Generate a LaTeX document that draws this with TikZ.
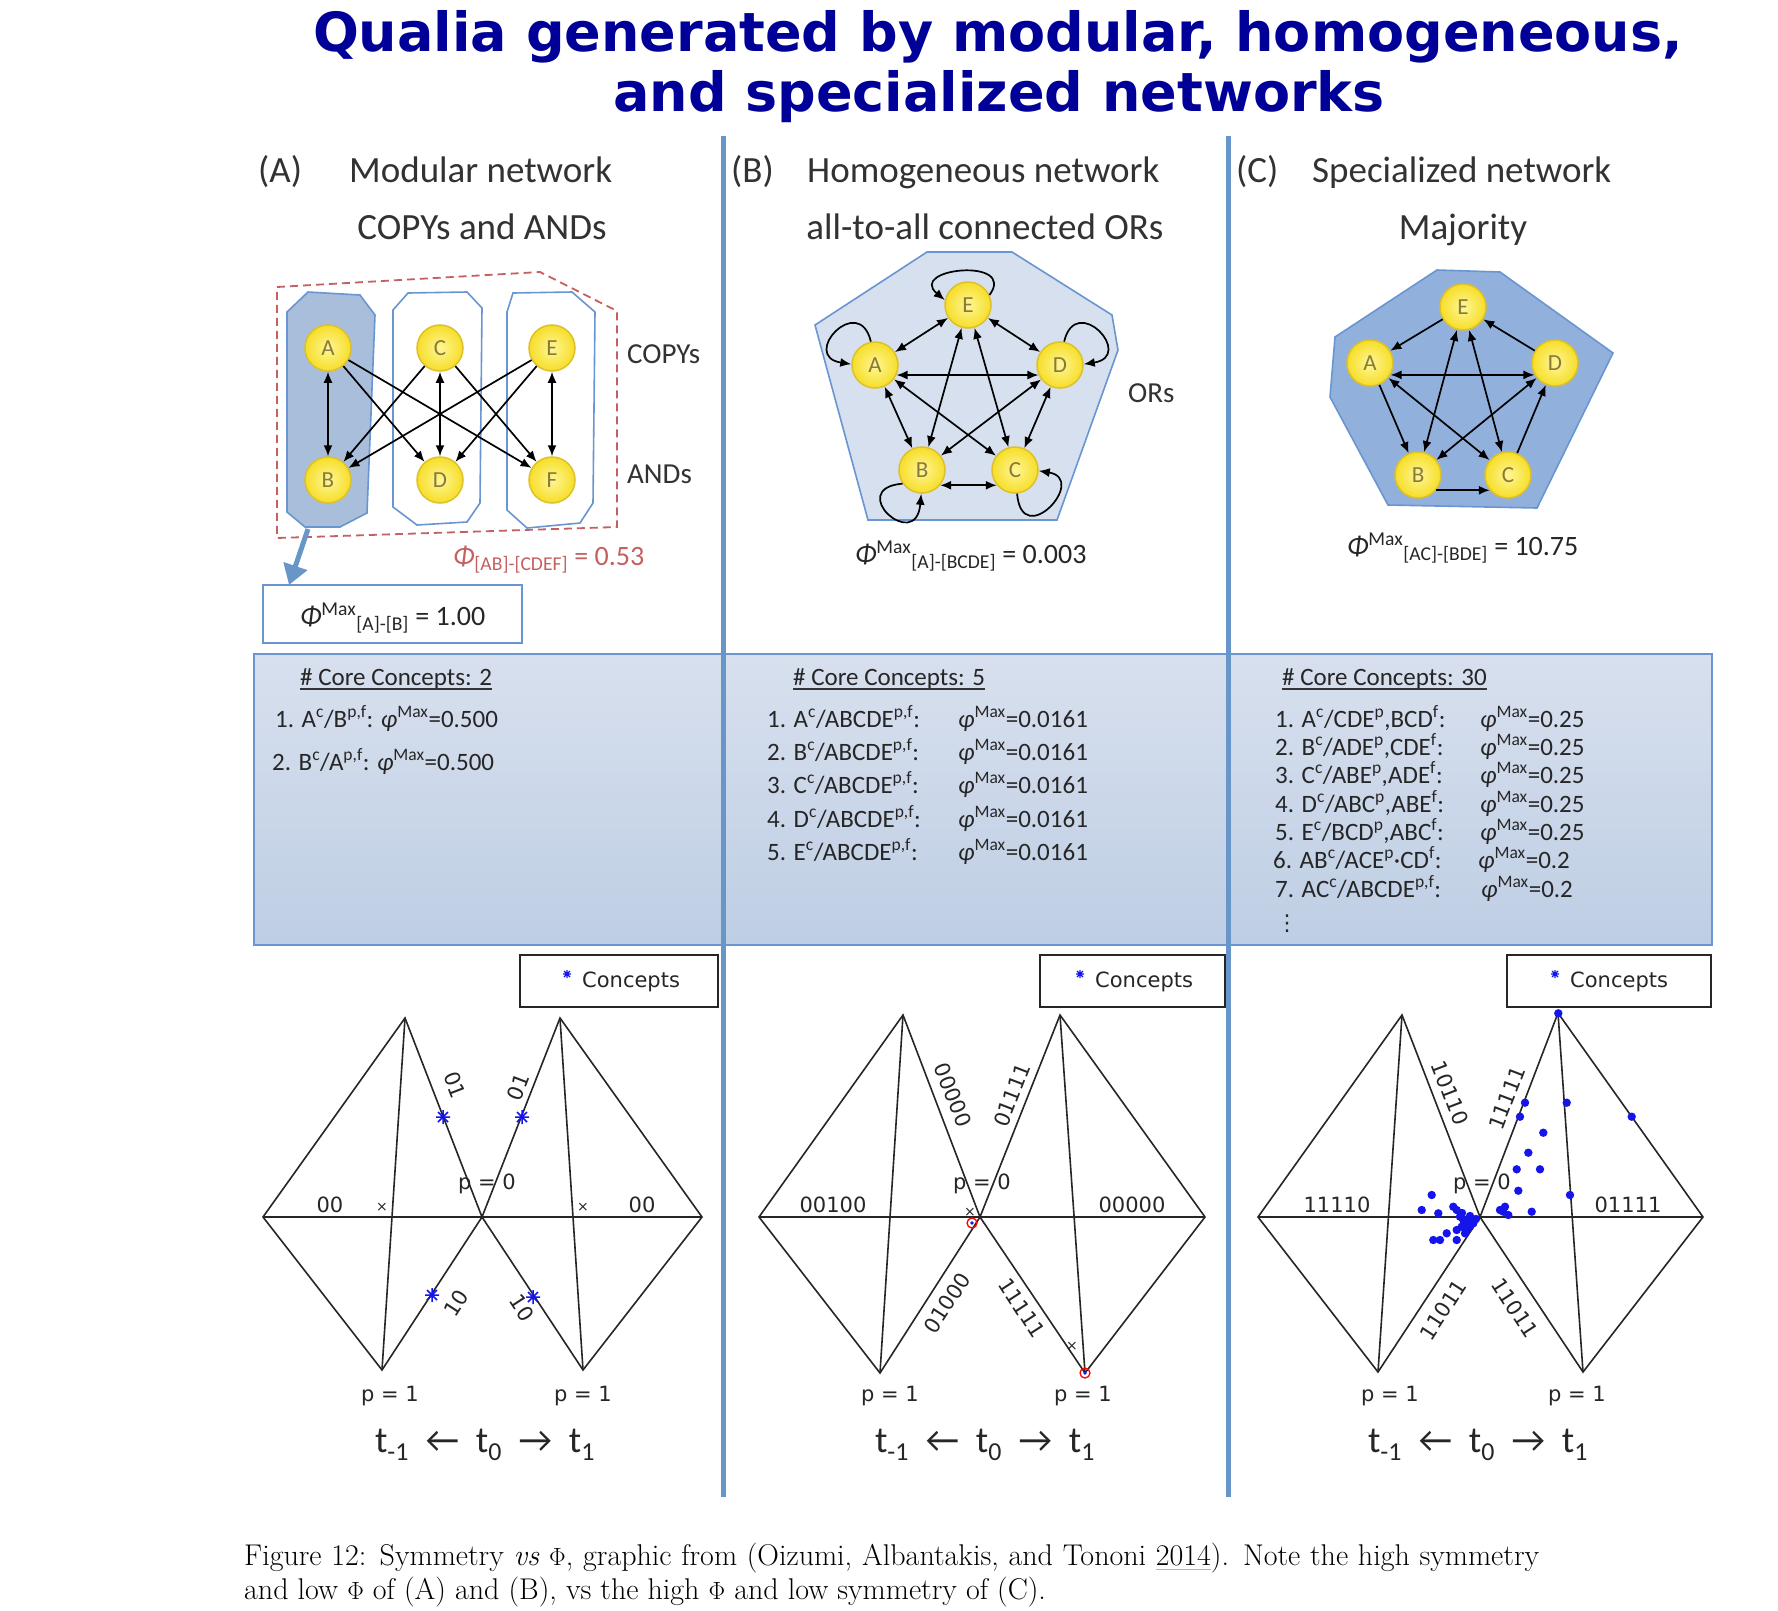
\documentclass[tikz,border=0pt]{standalone}
\usepackage{fontspec}
\newfontfamily\cf{Carlito}
\newfontfamily\titlefont{DejaVu Sans}
\newfontfamily\plotfont{DejaVu Sans}
\usetikzlibrary{arrows.meta,shapes.geometric}
\definecolor{titleblue}{RGB}{0,0,153}
\definecolor{lineblue}{RGB}{104,150,200}
\definecolor{hdrgray}{RGB}{50,50,50}
\definecolor{boxtop}{RGB}{216,224,238}
\definecolor{boxbot}{RGB}{190,206,228}
\definecolor{modfill}{RGB}{168,190,218}
\definecolor{modbord}{RGB}{105,150,208}
\definecolor{pentfill}{RGB}{214,224,238}
\definecolor{heptfill}{RGB}{146,176,220}
\definecolor{ycore}{RGB}{255,246,150}
\definecolor{yedge}{RGB}{246,222,40}
\definecolor{ybord}{RGB}{222,192,40}
\definecolor{ytext}{RGB}{135,122,60}
\definecolor{redlab}{RGB}{196,96,96}
\definecolor{dotblue}{RGB}{20,20,235}
\definecolor{capgreen}{RGB}{120,220,120}
\newcommand\gul[1]{\setbox0\hbox{#1}\rlap{\color{capgreen}\rule[-5pt]{\wd0}{1.3pt}}\box0}
\newcommand\sps[1]{\textsuperscript{#1}}
\newcommand\sbs[1]{\textsubscript{#1}}
\begin{document}
\begin{tikzpicture}[x=1pt,y=-1pt,
  titletxt/.style={anchor=base,inner sep=0pt,text=titleblue,font=\titlefont\bfseries\fontsize{54}{62}\selectfont},
  hdr/.style={anchor=base west,inner sep=0pt,text=hdrgray,font=\cf\fontsize{37}{44}\selectfont},
  hdrc/.style={anchor=base,inner sep=0pt,text=hdrgray,font=\cf\fontsize{37}{44}\selectfont},
  lab/.style={anchor=base west,inner sep=0pt,text=hdrgray,font=\cf\fontsize{29}{34}\selectfont},
  philab/.style={anchor=base west,inner sep=0pt,text=black!85,font=\cf\fontsize{28}{34}\selectfont},
  cc/.style={anchor=base west,inner sep=0pt,text=black!85,font=\cf\fontsize{25}{30}\selectfont},
  ynode/.style={circle,minimum size=46pt,inner sep=0pt,draw=ybord,line width=1.5pt,inner color=ycore,outer color=yedge,text=ytext,font=\cf\fontsize{23}{26}\selectfont},
  oneway/.style={-{Latex[length=11pt,width=9pt]},line width=1.7pt},
  twoway/.style={{Latex[length=11pt,width=9pt]}-{Latex[length=11pt,width=9pt]},line width=1.7pt},
  pline/.style={line width=1.6pt,black!85},
  plab/.style={inner sep=0pt,text=black!85,font=\plotfont\fontsize{21}{24}\selectfont},
  legbox/.style={draw=black!85,line width=2pt,fill=white},
  dot/.style={fill=dotblue,draw=none},
  astr/.pic={\draw[dotblue,line width=1.5pt] (-7,0)--(7,0) (0,-7)--(0,7) (-5,-5)--(5,5) (-5,5)--(5,-5);},
  smallastr/.pic={\draw[dotblue,line width=1.3pt] (-4,0)--(4,0) (0,-4)--(0,4) (-3,-3)--(3,3) (-3,3)--(3,-3);}
]
\useasboundingbox (0,0) rectangle (1778,1610);
\fill[white] (0,0) rectangle (1778,1610);

% ---------------- title
\node[titletxt] (t1) at (998,51) {Qualia generated by modular, homogeneous,};
\node[titletxt] (t2) at (999,111) {and specialized networks};

% ---------------- core concept box
\shade[top color=boxtop,bottom color=boxbot,draw=modbord,line width=2pt] (254,654) rectangle (1712,945);

% ---------------- vertical separators
\coordinate (s1t) at (723,136); \coordinate (s1b) at (723,1497);
\coordinate (s2t) at (1228,136); \coordinate (s2b) at (1228,1497);
\draw[lineblue,line width=5pt] (s1t) -- (s1b);
\draw[lineblue,line width=5pt] (s2t) -- (s2b);

% ---------------- headers
\node[hdr] (hA1) at (258,182) {(A)};
\node[hdr] (hA2) at (349,182) {Modular network};
\node[hdrc] (hA3) at (482,239) {COPYs and ANDs};
\node[hdr] (hB1) at (731,182) {(B)};
\node[hdr] (hB2) at (807,182) {Homogeneous network};
\node[hdrc] (hB3) at (985,239) {all-to-all connected ORs};
\node[hdr] (hC1) at (1236,182) {(C)};
\node[hdr] (hC2) at (1312,182) {Specialized network};
\node[hdrc] (hC3) at (1463,239) {Majority};

% ================= panel A network
\draw[dashed,dash pattern=on 8pt off 5pt,line width=1.8pt,draw=redlab]
  (277,287) -- (540,272) -- (617,311) -- (617,527) -- (277,538) -- cycle;
\draw[fill=modfill,draw=modbord,line width=1.6pt]
  (287,312) -- (308,292) -- (360,295) -- (375,315) -- (367,513) -- (340,527) -- (305,527) -- (287,512) -- cycle;
\draw[fill=white,draw=modbord,line width=1.6pt]
  (393,310) -- (408,293) -- (467,292) -- (482,308) -- (480,503) -- (467,522) -- (417,525) -- (393,507) -- cycle;
\draw[fill=white,draw=modbord,line width=1.6pt]
  (507,312) -- (513,293) -- (572,292) -- (595,312) -- (593,503) -- (580,523) -- (527,528) -- (507,510) -- cycle;
\node[ynode] (aA) at (328,348) {A};
\node[ynode] (aC) at (440,348) {C};
\node[ynode] (aE) at (552,348) {E};
\node[ynode] (aB) at (328,480) {B};
\node[ynode] (aD) at (440,480) {D};
\node[ynode] (aF) at (552,480) {F};
\draw[twoway] (aA) -- (aB);
\draw[twoway] (aC) -- (aD);
\draw[twoway] (aE) -- (aF);
\draw[oneway] (aA) -- (aD);
\draw[oneway] (aA) -- (aF);
\draw[oneway] (aC) -- (aB);
\draw[oneway] (aC) -- (aF);
\draw[oneway] (aE) -- (aB);
\draw[oneway] (aE) -- (aD);
\node[lab] (copys) at (627,363) {COPYs};
\node[lab] (ands) at (627,483) {ANDs};
\node[philab,text=redlab] (phiAB) at (453,565) {\textit{Φ}\sbs{[AB]-[CDEF]} = 0.53};
\node[draw=modbord,line width=2pt,fill=white,minimum width=259pt,minimum height=58pt,inner sep=0pt] (maxA) at (392.5,614) {};
\node[philab] (maxAt) at (300,625) {\textit{Φ}\sps{Max}\sbs{[A]-[B]} = 1.00};
\coordinate (arrS) at (308,529);
\coordinate (arrE) at (289,585);
\draw[lineblue,line width=5pt,-{Triangle[length=20pt,width=24pt]}] (arrS) -- (arrE);

% ================= panel B network
\draw[fill=pentfill,draw=modbord,line width=1.6pt]
  (815,325) -- (927,252) -- (1012,252) -- (1112,315) -- (1118,350) -- (1057,520) -- (868,520) -- cycle;
\node[ynode] (bE) at (968,305) {E};
\node[ynode] (bA) at (875,365) {A};
\node[ynode] (bD) at (1060,365) {D};
\node[ynode] (bB) at (922,470) {B};
\node[ynode] (bC) at (1015,470) {C};
\draw[twoway] (bE) -- (bA);
\draw[twoway] (bE) -- (bD);
\draw[twoway] (bA.-25) -- (bD.205);
\draw[twoway] (bA) -- (bB);
\draw[twoway] (bD) -- (bC);
\draw[twoway] (bB.-40) -- (bC.220);
\draw[twoway] (bA) -- (bC);
\draw[twoway] (bD) -- (bB);
\draw[twoway] (bE) -- (bB);
\draw[twoway] (bE) -- (bC);
\draw[oneway] (bE.25) .. controls +(28,-38) and +(-38,-32) .. (bE.168);
\draw[oneway] (bA.100) .. controls +(-12,-50) and +(-52,-8) .. (bA.178);
\draw[oneway] (bD.80) .. controls +(12,-50) and +(52,-8) .. (bD.2);
\draw[oneway] (bB.215) .. controls +(-58,5) and +(-5,60) .. (bB.268);
\draw[oneway] (bC.275) .. controls +(5,58) and +(50,8) .. (bC.-2);
\node[lab] (ors) at (1128,402) {ORs};
\node[philab] (maxB) at (855,563) {\textit{Φ}\sps{Max}\sbs{[A]-[BCDE]} = 0.003};

% ================= panel C network
\draw[fill=heptfill,draw=modbord,line width=1.6pt]
  (1335,337) -- (1437,270) -- (1500,272) -- (1613,353) -- (1537,508) -- (1388,505) -- (1330,397) -- cycle;
\node[ynode] (cE) at (1463,307) {E};
\node[ynode] (cA) at (1370,363) {A};
\node[ynode] (cD) at (1555,363) {D};
\node[ynode] (cB) at (1418,475) {B};
\node[ynode] (cC) at (1508,475) {C};
\draw[oneway] (cE) -- (cA);
\draw[oneway] (cD) -- (cE);
\draw[twoway] (cA.-30) -- (cD.210);
\draw[twoway] (cE) -- (cB);
\draw[twoway] (cE) -- (cC);
\draw[oneway] (cA) -- (cB);
\draw[twoway] (cA) -- (cC);
\draw[twoway] (cD) -- (cB);
\draw[oneway] (cC) -- (cD);
\draw[oneway] (cB.-40) -- (cC.220);
\node[philab] (maxC) at (1347,555) {\textit{Φ}\sps{Max}\sbs{[AC]-[BDE]} = 10.75};

% ================= core concepts text
\node[cc] (ccA) at (300,685) {\# Core Concepts: 2};
\draw[line width=2pt,black!80] ([yshift=-4pt]ccA.base west) -- ([yshift=-4pt]ccA.base east);
\node[cc] (a1) at (275,727) {1. A\sps{c}/B\sps{p,f}: \textit{φ}\sps{Max}=0.500};
\node[cc] (a2) at (272,770) {2. B\sps{c}/A\sps{p,f}: \textit{φ}\sps{Max}=0.500};

\node[cc] (ccB) at (793,685) {\# Core Concepts: 5};
\draw[line width=2pt,black!80] ([yshift=-4pt]ccB.base west) -- ([yshift=-4pt]ccB.base east);
\node[cc] (b1) at (767,727) {1. A\sps{c}/ABCDE\sps{p,f}:};
\node[cc] (b2) at (767,760) {2. B\sps{c}/ABCDE\sps{p,f}:};
\node[cc] (b3) at (767,793) {3. C\sps{c}/ABCDE\sps{p,f}:};
\node[cc] (b4) at (767,827) {4. D\sps{c}/ABCDE\sps{p,f}:};
\node[cc] (b5) at (767,860) {5. E\sps{c}/ABCDE\sps{p,f}:};
\node[cc] (b1v) at (958,727) {\textit{φ}\sps{Max}=0.0161};
\node[cc] (b2v) at (958,760) {\textit{φ}\sps{Max}=0.0161};
\node[cc] (b3v) at (958,793) {\textit{φ}\sps{Max}=0.0161};
\node[cc] (b4v) at (958,827) {\textit{φ}\sps{Max}=0.0161};
\node[cc] (b5v) at (958,860) {\textit{φ}\sps{Max}=0.0161};

\node[cc] (ccC) at (1282,685) {\# Core Concepts: 30};
\draw[line width=2pt,black!80] ([yshift=-4pt]ccC.base west) -- ([yshift=-4pt]ccC.base east);
\node[cc] (c1) at (1275,727) {1. A\sps{c}/CDE\sps{p},BCD\sps{f}:};
\node[cc] (c2) at (1275,755) {2. B\sps{c}/ADE\sps{p},CDE\sps{f}:};
\node[cc] (c3) at (1275,783) {3. C\sps{c}/ABE\sps{p},ADE\sps{f}:};
\node[cc] (c4) at (1275,812) {4. D\sps{c}/ABC\sps{p},ABE\sps{f}:};
\node[cc] (c5) at (1275,840) {5. E\sps{c}/BCD\sps{p},ABC\sps{f}:};
\node[cc] (c6) at (1273,868) {6. AB\sps{c}/ACE\sps{p}·CD\sps{f}:};
\node[cc] (c7) at (1275,897) {7. AC\sps{c}/ABCDE\sps{p,f}:};
\node[cc] (c1v) at (1480,727) {\textit{φ}\sps{Max}=0.25};
\node[cc] (c2v) at (1480,755) {\textit{φ}\sps{Max}=0.25};
\node[cc] (c3v) at (1480,783) {\textit{φ}\sps{Max}=0.25};
\node[cc] (c4v) at (1480,812) {\textit{φ}\sps{Max}=0.25};
\node[cc] (c5v) at (1480,840) {\textit{φ}\sps{Max}=0.25};
\node[cc] (c6v) at (1478,868) {\textit{φ}\sps{Max}=0.2};
\node[cc] (c7v) at (1481,897) {\textit{φ}\sps{Max}=0.2};
\node[inner sep=0pt,text=black!85,font=\plotfont\fontsize{22}{24}\selectfont] (cdots) at (1287,924) {⋮};

% ================= plots panel A
\draw[legbox] (520,955) rectangle (718,1007);
\pic at (567,974) {smallastr};
\node[plab,anchor=west] (legA) at (582,982) {Concepts};
\coordinate (aLT) at (405,1018); \coordinate (aLL) at (263,1217); \coordinate (aLB) at (382,1370);
\coordinate (aCC) at (482,1217); \coordinate (aRT) at (560,1018); \coordinate (aRR) at (702,1217); \coordinate (aRB) at (583,1370);
\draw[pline] (aLL) -- (aLT) -- (aCC) -- (aLB) -- cycle;
\draw[pline] (aLT) -- (aLB);
\draw[pline] (aLL) -- (aCC);
\draw[pline] (aCC) -- (aRT) -- (aRR) -- (aRB) -- cycle;
\draw[pline] (aRT) -- (aRB);
\draw[pline] (aCC) -- (aRR);
\node[plab] (aL00) at (330,1205) {00};
\node[plab] (aR00) at (642,1205) {00};
\node[plab,font=\plotfont\fontsize{14}{16}\selectfont] (aLx) at (382,1207) {×};
\node[plab,font=\plotfont\fontsize{14}{16}\selectfont] (aRx) at (583,1207) {×};
\node[plab,rotate=-69] (aL01) at (455,1085) {01};
\node[plab,rotate=69] (aR01) at (518,1087) {01};
\node[plab,rotate=57] (aL10) at (456,1303) {10};
\node[plab,rotate=-57] (aR10) at (522,1308) {10};
\node[plab,anchor=base] (ap0) at (487,1189) {p = 0};
\node[plab,anchor=base] (ap1L) at (390,1401) {p = 1};
\node[plab,anchor=base] (ap1R) at (583,1401) {p = 1};
\pic at (443,1117) {astr};
\pic at (522,1117) {astr};
\pic at (432,1295) {astr};
\pic at (533,1297) {astr};
\node[hdrc,anchor=base,text=black!85] (atrow) at (485,1452) {t\sbs{-1}\ \ ← \ t\sbs{0} \ → \ t\sbs{1}};

% ================= plots panel B
\draw[legbox] (1040,955) rectangle (1225,1007);
\pic at (1080,974) {smallastr};
\node[plab,anchor=west] (legB) at (1095,982) {Concepts};
\coordinate (bLT) at (903,1015); \coordinate (bLL) at (759,1217); \coordinate (bLB) at (880,1373);
\coordinate (bCC) at (980,1217); \coordinate (bRT) at (1060,1015); \coordinate (bRR) at (1205,1217); \coordinate (bRB) at (1085,1373);
\draw[pline] (bLL) -- (bLT) -- (bCC) -- (bLB) -- cycle;
\draw[pline] (bLT) -- (bLB);
\draw[pline] (bLL) -- (bCC);
\draw[pline] (bCC) -- (bRT) -- (bRR) -- (bRB) -- cycle;
\draw[pline] (bRT) -- (bRB);
\draw[pline] (bCC) -- (bRR);
\node[plab] (bL5) at (833,1205) {00100};
\node[plab] (bR5) at (1132,1205) {00000};
\node[plab,rotate=-69] (bLu) at (953,1095) {00000};
\node[plab,rotate=69] (bRu) at (1012,1095) {01111};
\node[plab,rotate=57] (bLd) at (947,1303) {01000};
\node[plab,rotate=-57] (bRd) at (1022,1308) {11111};
\node[plab,anchor=base] (bp0) at (982,1189) {p = 0};
\node[plab,anchor=base] (bp1L) at (890,1401) {p = 1};
\node[plab,anchor=base] (bp1R) at (1083,1401) {p = 1};
\node[plab,font=\plotfont\fontsize{14}{16}\selectfont] (bx1) at (970,1212) {×};
\node[plab,font=\plotfont\fontsize{14}{16}\selectfont] (bx2) at (1072,1346) {×};
\draw[red,line width=1.3pt] (972,1223) circle (5);
\fill[dotblue] (972,1223) circle (1.8);
\draw[red,line width=1.3pt] (1085,1373) circle (5);
\fill[dotblue] (1085,1373) circle (1.8);
\node[hdrc,anchor=base,text=black!85] (btrow) at (985,1452) {t\sbs{-1}\ \ ← \ t\sbs{0} \ → \ t\sbs{1}};

% ================= plots panel C
\draw[legbox] (1507,955) rectangle (1711,1007);
\pic at (1555,974) {smallastr};
\node[plab,anchor=west] (legC) at (1570,982) {Concepts};
\coordinate (cLT) at (1402,1015); \coordinate (cLL) at (1258,1217); \coordinate (cLB) at (1378,1372);
\coordinate (cCC) at (1480,1217); \coordinate (cRT) at (1558,1013); \coordinate (cRR) at (1703,1217); \coordinate (cRB) at (1583,1372);
\draw[pline] (cLL) -- (cLT) -- (cCC) -- (cLB) -- cycle;
\draw[pline] (cLT) -- (cLB);
\draw[pline] (cLL) -- (cCC);
\draw[pline] (cCC) -- (cRT) -- (cRR) -- (cRB) -- cycle;
\draw[pline] (cRT) -- (cRB);
\draw[pline] (cCC) -- (cRR);
\node[plab] (cL5) at (1337,1205) {11110};
\node[plab] (cR5) at (1628,1205) {01111};
\node[plab,rotate=-69] (cLu) at (1450,1093) {10110};
\node[plab,rotate=69] (cRu) at (1507,1098) {11111};
\node[plab,rotate=57] (cLd) at (1443,1310) {11011};
\node[plab,rotate=-57] (cRd) at (1515,1308) {11011};
\node[plab,anchor=base] (cp0) at (1482,1189) {p = 0};
\node[plab,anchor=base] (cp1L) at (1390,1401) {p = 1};
\node[plab,anchor=base] (cp1R) at (1577,1401) {p = 1};
\foreach \px/\py in {1558.3/1013.3,1525/1102.7,1566.7/1102.7,1520/1116.7,1631.7/1116.7,1543.3/1132.7,
  1528.3/1152.7,1516.7/1169.3,1540/1169.3,1518.3/1190.7,1570/1195,1431.7/1195,1505/1206.7,1503.3/1211.7,
  1508.3/1215,1531.7/1211.7,1500/1210,1421.7/1210,1438.3/1213.3,1453.3/1206.7,1456.7/1210,1460/1216.7,
  1463.3/1220,1466.7/1223.3,1470/1221.7,1473.3/1223.3,1461.7/1226.7,1466.7/1230,1470/1226.7,1456.7/1230,
  1465/1233.3,1446.7/1233.3,1433.3/1240,1440/1240,1456.7/1240,1470/1216,1476/1219,1462/1213}
  {\fill[dot] (\px,\py) circle (4.2);}
\node[hdrc,anchor=base,text=black!85] (ctrow) at (1478,1452) {t\sbs{-1}\ \ ← \ t\sbs{0} \ → \ t\sbs{1}};

% ================= caption
\node[anchor=base west,inner sep=0pt,font=\fontsize{30}{36}\selectfont] (cap1) at (244,1565)
  {\makebox[1295pt][s]{Figure 12: Symmetry \emph{vs} $\Phi$, graphic from (Oizumi, Albantakis, and Tononi \gul{2014}). Note the high symmetry}};
\node[anchor=base west,inner sep=0pt,font=\fontsize{30}{36}\selectfont] (cap2) at (244,1599)
  {and low $\Phi$ of (A) and (B), vs the high $\Phi$ and low symmetry of (C).};
\end{tikzpicture}
\end{document}
